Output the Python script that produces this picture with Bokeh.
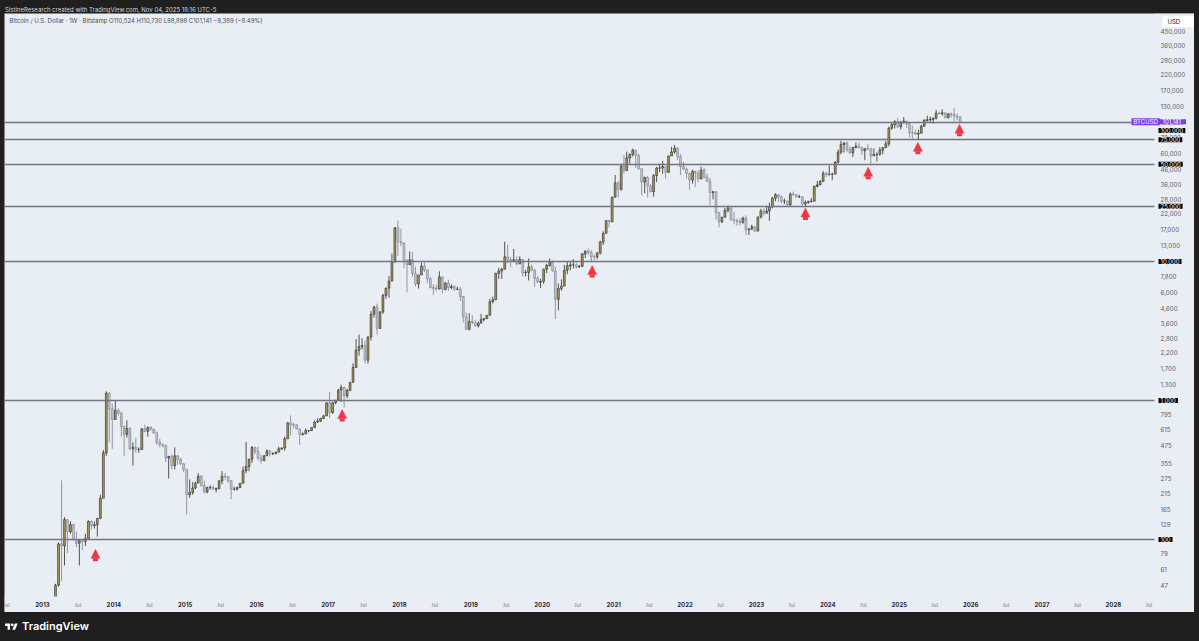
import numpy as np
import pandas as pd
from bokeh.plotting import figure
from bokeh.models import (ColumnDataSource, Range1d, FixedTicker, NumeralTickFormatter,
                          DatetimeTickFormatter, Label, LabelSet, Arrow, NormalHead,
                          Div, GlobalInlineStyleSheet)
from bokeh.layouts import column
from bokeh.embed import file_html
from bokeh.resources import INLINE

# ---------------- data: half-month candles (Bitstamp BTC/USD), open = previous close ----------------
first_open = 20.4
close_2013 = [27, 33, 47, 93, 90, 139, 114, 128, 100, 94, 98, 97, 102, 135, 126, 128, 142, 198, 420, 1130, 870, 730]
high_2013 = [27.5, 34, 48, 95, 266, 145, 140, 135, 130, 114, 100, 100, 110, 137, 137, 135, 143, 210, 440, 1163, 1150, 950]
low_2013 = [19.5, 26, 33, 46, 50, 65, 80, 110, 98, 88, 65, 84, 90, 101, 118, 120, 105, 140, 198, 400, 500, 450]

close_2014 = [850, 810, 650, 570, 630, 450, 460, 445, 445, 625, 600, 640, 620, 585, 500, 480, 475, 385, 395, 340, 400, 378, 350, 320]
high_2014 = [1000, 880, 830, 660, 720, 640, 500, 540, 460, 630, 670, 650, 655, 630, 600, 530, 490, 480, 400, 410, 460, 405, 385, 355]
low_2014 = [730, 780, 550, 400, 540, 440, 340, 420, 420, 440, 590, 550, 610, 575, 480, 460, 460, 360, 275, 320, 320, 345, 345, 305]

close_2015 = [210, 218, 235, 255, 285, 245, 220, 236, 237, 230, 232, 264, 285, 284, 265, 230, 230, 236, 254, 313, 335, 378, 460, 430]
high_2015 = [320, 270, 260, 260, 300, 290, 265, 240, 245, 245, 236, 267, 310, 300, 285, 265, 240, 240, 255, 335, 502, 380, 470, 465]
low_2015 = [152, 200, 210, 230, 255, 240, 215, 215, 228, 228, 218, 230, 250, 270, 255, 195, 225, 225, 235, 254, 300, 310, 355, 410]

close_2016 = [385, 370, 400, 435, 415, 415, 425, 450, 455, 530, 690, 670, 665, 625, 570, 575, 608, 608, 638, 700, 710, 742, 775, 960]
high_2016 = [465, 410, 405, 445, 440, 425, 430, 465, 460, 550, 700, 780, 690, 680, 625, 590, 630, 610, 640, 720, 745, 750, 790, 975]
low_2016 = [370, 350, 365, 400, 395, 405, 410, 425, 440, 435, 530, 560, 630, 620, 480, 560, 575, 590, 605, 635, 690, 700, 740, 775]

close_2017 = [820, 965, 1005, 1190, 1240, 1080, 1180, 1350, 1730, 2300, 2450, 2480, 1950, 2860, 4170, 4700, 3300, 4330, 5700, 6440, 7240, 9950, 17500, 13900]
high_2017 = [1150, 970, 1010, 1210, 1300, 1260, 1215, 1350, 1850, 2760, 2980, 2800, 2700, 2900, 4400, 4800, 4980, 4400, 5850, 6450, 7880, 11400, 17700, 19700]
low_2017 = [750, 800, 940, 1000, 975, 890, 1040, 1180, 1350, 1730, 2100, 2330, 1850, 1840, 2700, 3950, 2980, 3300, 4200, 5400, 5500, 7200, 9800, 11000]

close_2018 = [13600, 10200, 9500, 10300, 8200, 6900, 8000, 9250, 8700, 7500, 6500, 6400, 6350, 7750, 6300, 7000, 6500, 6600, 6300, 6320, 5600, 4000, 3250, 3700]
high_2018 = [17200, 13700, 10300, 11800, 11700, 9200, 8000, 9800, 9900, 8700, 7750, 6850, 6800, 8500, 7750, 7100, 7400, 6850, 6750, 6600, 6550, 5650, 4300, 4250]
low_2018 = [12900, 9000, 6000, 9400, 7800, 6600, 6400, 8000, 8400, 7000, 6400, 5750, 6100, 6300, 5880, 6200, 6150, 6300, 6150, 6250, 5200, 3650, 3200, 3200]

close_2019 = [3630, 3450, 3600, 3820, 3880, 4100, 5150, 5300, 8200, 8550, 8800, 10800, 10300, 10100, 10300, 9600, 10350, 8300, 8350, 9150, 8650, 7550, 7100, 7200]
high_2019 = [4100, 3800, 3700, 4200, 3930, 4120, 5400, 5600, 8300, 9000, 9000, 13880, 13200, 10800, 12300, 10900, 10900, 10400, 8700, 10500, 9500, 8800, 7800, 7500]
low_2019 = [3550, 3400, 3350, 3600, 3700, 3880, 4100, 5000, 5300, 7500, 7500, 8800, 9700, 9100, 9900, 9400, 9600, 7800, 7800, 7300, 8600, 6550, 7000, 6450]

close_2020 = [8800, 9350, 9900, 8550, 5350, 6400, 6650, 8650, 9300, 9450, 9450, 9150, 9250, 11350, 11850, 11650, 10800, 10780, 11500, 13800, 15950, 19700, 19300, 29000]
high_2020 = [8900, 9600, 10500, 10200, 9200, 6950, 7450, 9450, 10000, 9950, 10400, 9800, 9450, 11450, 12100, 12450, 12050, 11200, 11700, 14100, 16500, 19700, 19900, 29300]
low_2020 = [6900, 8250, 9200, 8450, 3850, 4450, 6150, 6650, 8100, 8650, 8900, 8900, 9000, 9100, 10600, 11150, 9900, 10150, 10400, 11250, 13200, 15950, 17600, 19200]

close_2021 = [36800, 33100, 48700, 45200, 55600, 58800, 63300, 57750, 46500, 37300, 40200, 35000, 31800, 41500, 47000, 47100, 48150, 43800, 57400, 61300, 65500, 57000, 48300, 46200]
high_2021 = [41950, 37900, 49700, 58350, 61800, 60000, 64850, 63500, 59600, 46500, 40900, 41300, 36000, 42600, 48000, 50500, 52900, 48500, 58000, 67000, 69000, 66300, 59100, 52000]
low_2021 = [29000, 28800, 32300, 43000, 45000, 50400, 56900, 47050, 46000, 30000, 31000, 28800, 31500, 29300, 37300, 43900, 42800, 39600, 43300, 57400, 59700, 53500, 42000, 45500]

close_2022 = [43100, 38500, 44500, 43200, 39300, 45500, 40500, 37700, 31300, 31800, 22600, 19300, 20800, 23300, 24300, 20050, 19700, 19400, 19100, 20500, 16900, 17150, 17800, 16550]
high_2022 = [47500, 43500, 45800, 44800, 45400, 48200, 47200, 42900, 40000, 32000, 31900, 22600, 21000, 24300, 25200, 24500, 22800, 20400, 20500, 21000, 21500, 17300, 18400, 17900]
low_2022 = [39600, 32900, 36300, 34300, 37200, 39000, 39300, 37600, 25400, 28000, 20100, 17600, 18900, 20800, 22500, 19600, 18500, 18100, 18200, 18700, 15600, 15500, 16800, 16300]

close_2023 = [20900, 23100, 22200, 23100, 24700, 28500, 30300, 29250, 27200, 27200, 25600, 30500, 30300, 29200, 29200, 25950, 26600, 27000, 27150, 34650, 35600, 37700, 43000, 42300]
high_2023 = [21000, 23950, 24250, 25250, 26500, 29200, 31000, 30400, 29800, 28400, 27400, 31400, 31850, 30400, 30200, 29200, 27500, 27400, 28600, 35200, 38000, 38500, 44700, 44400]
low_2023 = [16500, 20400, 21400, 22200, 19600, 24100, 27100, 26900, 26300, 25900, 24800, 25000, 29600, 28900, 28700, 25200, 24900, 26000, 26500, 27100, 34100, 35500, 37600, 40500]

close_2024 = [42500, 42600, 51900, 61200, 69500, 71300, 63900, 60600, 66200, 67500, 66000, 62700, 64800, 64600, 57500, 58900, 59100, 63300, 66000, 70200, 91000, 96400, 101400, 93400]
high_2024 = [49000, 43500, 52800, 64000, 73800, 71800, 72800, 67200, 66400, 71900, 71900, 67000, 65000, 70000, 65600, 65000, 61000, 66500, 66500, 73600, 93500, 99600, 104000, 108300]
low_2024 = [41500, 38500, 42300, 50600, 59000, 60800, 61300, 59600, 56500, 65000, 65100, 58400, 53500, 63400, 49000, 57500, 52600, 57700, 58900, 65500, 67400, 88700, 90500, 91500]

close_2025 = [100500, 102400, 97500, 84400, 84300, 82500, 83600, 94200, 103600, 104600, 105500, 107100, 117000, 115800, 117400, 108200, 115400, 114000, 110800, 109500, 101141]
high_2025 = [102700, 109400, 102500, 99500, 95000, 88800, 88500, 95800, 105800, 112000, 110500, 108800, 123200, 120200, 124500, 117600, 116800, 117900, 126200, 116400, 111200]
low_2025 = [89200, 97800, 91200, 78200, 76600, 81200, 74500, 83600, 93400, 101500, 100400, 98200, 105100, 114700, 112000, 107400, 107300, 108600, 102000, 103500, 98898]

# horizontal levels drawn on the chart
levels = [100, 1000, 10000, 25000, 50000, 75000, 100000]
level_labels = ["100", "1,000", "10,000", "25,000", "50,000", "75,000", "100,000"]
last_price = 101141
last_price_label = "101,141"

# price scale tick values
price_ticks = [47, 61, 79, 100, 129, 165, 215, 275, 355, 475, 615, 795, 1000, 1300, 1700, 2200,
               2800, 3600, 4600, 6000, 7800, 10000, 13000, 17000, 22000, 28000, 36000, 46000,
               60000, 78000, 100000, 130000, 170000, 220000, 280000, 360000, 450000]

# red "up" arrow markers (date, price the arrow tip points at)
arrow_dates = ["2013-09-29", "2017-03-14", "2020-09-13", "2023-09-09", "2024-07-26", "2025-04-06", "2025-11-05"]
arrow_prices = [85, 860, 9350, 24300, 47700, 72000, 97000]

header_text = "SistineResearch created with TradingView.com, Nov 04, 2025 18:16 UTC-5"
legend_text = "Bitcoin / U.S. Dollar · 1W · Bitstamp   O110,524   H110,730   L98,898   C101,141   −9,389 (−8.49%)"

# ---------------- assemble ----------------
closes, highs, lows = [], [], []
for c, h, l in [(close_2013, high_2013, low_2013), (close_2014, high_2014, low_2014),
                (close_2015, high_2015, low_2015), (close_2016, high_2016, low_2016),
                (close_2017, high_2017, low_2017), (close_2018, high_2018, low_2018),
                (close_2019, high_2019, low_2019), (close_2020, high_2020, low_2020),
                (close_2021, high_2021, low_2021), (close_2022, high_2022, low_2022),
                (close_2023, high_2023, low_2023), (close_2024, high_2024, low_2024),
                (close_2025, high_2025, low_2025)]:
    closes += c
    highs += h
    lows += l
n = len(closes)
opens = [first_open] + closes[:-1]

starts_all = []
for yr in range(2013, 2027):
    for mo in range(1, 13):
        for dd in (1, 16):
            ts = pd.Timestamp(year=yr, month=mo, day=dd)
            if ts >= pd.Timestamp("2013-02-01"):
                starts_all.append(ts)
starts = starts_all[:n]
ends = starts_all[1:n + 1]


def ms(ts):
    return pd.Timestamp(ts).value / 1e6


xs = [(ms(s) + ms(e)) / 2 for s, e in zip(starts, ends)]
ws = [(ms(e) - ms(s)) * 0.62 for s, e in zip(starts, ends)]
up = [c >= o for o, c in zip(opens, closes)]
UP_FILL, UP_LINE = "#a99a5c", "#2b2a25"
DN_FILL, DN_LINE = "#c3c7cf", "#7b8089"
src = ColumnDataSource(dict(
    x=xs, w=ws,
    top=[max(o, c) for o, c in zip(opens, closes)],
    bottom=[min(o, c) for o, c in zip(opens, closes)],
    high=[max(h, o, c) for h, o, c in zip(highs, opens, closes)],
    low=[min(l, o, c) for l, o, c in zip(lows, opens, closes)],
    fill=[UP_FILL if u else DN_FILL for u in up],
    line=[UP_LINE if u else DN_LINE for u in up],
))

BG = "#e9edf4"
DARK = "#1f1f1f"

# ---------------- geometry (whole light panel is the frame) ----------------
FIG_W, FIG_H = 1190, 599
PX_PER_DECADE = 139.0
PX_PER_DAY = 71.4 / 365.25
JAN2013_X = 38.0            # px from frame left to 2013-01-01
TEN_K_Y = 248.0             # px from frame top to the 10,000 level
PRICE_SCALE_W = 40          # width of the price scale pane
TIME_SCALE_H = 16           # height of the time scale pane

base = pd.Timestamp("2013-01-01")
x0 = base - pd.Timedelta(days=JAN2013_X / PX_PER_DAY)
x1 = base + pd.Timedelta(days=(FIG_W - JAN2013_X) / PX_PER_DAY)
x_scale_edge = base + pd.Timedelta(days=(FIG_W - PRICE_SCALE_W - JAN2013_X) / PX_PER_DAY)
YMAX = 10 ** (4 + TEN_K_Y / PX_PER_DECADE)
YMIN = 10 ** (4 - (FIG_H - TEN_K_Y) / PX_PER_DECADE)
Y_TIME_EDGE = 10 ** (4 - (FIG_H - TIME_SCALE_H - TEN_K_Y) / PX_PER_DECADE)

p = figure(width=FIG_W, height=FIG_H, x_axis_type="datetime", y_axis_type="log",
           x_range=Range1d(x0, x1), y_range=Range1d(YMIN, YMAX),
           y_axis_location="right", output_backend="svg", toolbar_location=None,
           background_fill_color=BG, border_fill_color=BG, outline_line_color=None,
           min_border_left=0, min_border_right=0, min_border_top=0, min_border_bottom=0,
           margin=(0, 5, 0, 4))
p.grid.visible = False

# axes (drawn inside the panel at the pane edges)
xa = p.xaxis[0]
xa.fixed_location = Y_TIME_EDGE
xa.ticker = FixedTicker(ticks=[ms(f"{y}-01-01") for y in range(2013, 2029)])
xa.formatter = DatetimeTickFormatter(milliseconds="%Y", seconds="%Y", minsec="%Y", minutes="%Y",
                                     hourmin="%Y", hours="%Y", days="%Y", months="%Y", years="%Y")
xa.axis_line_color = None
xa.major_tick_line_color = None
xa.minor_tick_line_color = None
xa.major_tick_out = 0
xa.major_tick_in = 0
xa.minor_tick_out = 0
xa.minor_tick_in = 0
xa.major_label_standoff = 5
xa.major_label_text_font = "Inter"
xa.major_label_text_font_size = "6px"
xa.major_label_text_font_style = "bold"
xa.major_label_text_color = "#2a2e39"

ya = p.yaxis[0]
ya.fixed_location = ms(x_scale_edge)
ya.ticker = FixedTicker(ticks=price_ticks)
ya.formatter = NumeralTickFormatter(format="0,0")
ya.axis_line_color = None
ya.major_tick_line_color = None
ya.minor_tick_line_color = None
ya.major_tick_out = 0
ya.major_tick_in = 0
ya.minor_tick_out = 0
ya.minor_tick_in = 0
ya.major_label_standoff = 6
ya.major_label_text_font = "Inter"
ya.major_label_text_font_size = "6.2px"
ya.major_label_text_color = "#5d606b"

# candles
p.segment(x0="x", y0="low", x1="x", y1="high", source=src, line_color="line", line_width=0.8)
p.vbar(x="x", width="w", top="top", bottom="bottom", source=src,
       fill_color="fill", line_color="line", line_width=0.6)

# horizontal levels
p.hspan(y=levels, line_color="#727681", line_width=1.5)

# time-scale and price-scale panes cover the series
p.quad(left=[ms(x0)], right=[ms(x1)], bottom=[YMIN], top=[Y_TIME_EDGE],
       fill_color=BG, line_color=None)
p.quad(left=[ms(x_scale_edge)], right=[ms(x1)], bottom=[YMIN], top=[YMAX],
       fill_color=BG, line_color=None)

jul_years = list(range(2012, 2029))
jul_src = ColumnDataSource(dict(x=[ms(f"{y}-07-01") for y in jul_years], t=["Jul"] * len(jul_years)))
p.add_layout(LabelSet(x="x", y=8, y_units="screen", text="t", source=jul_src,
                      text_align="center", text_baseline="middle", text_font="Inter",
                      text_font_size="6px", text_color="#80838d"))

# level labels on the price scale
SCALE_X = FIG_W - PRICE_SCALE_W
for lev, lab in zip(levels, level_labels):
    p.add_layout(Label(x=SCALE_X + 4, x_units="screen", y=lev, text=lab,
                       y_offset=-8 if lev == 100000 else 0,
                       text_font="Inter", text_font_size="6px", text_color="#ffffff",
                       text_baseline="middle", text_align="left",
                       background_fill_color="#000000",
                       padding=dict(left=2, right=2, top=0, bottom=0)))

PURPLE = "#7b3ff0"
p.add_layout(Label(x=SCALE_X - 23, x_units="screen", y=last_price, text="BTCUSD",
                   text_font="Inter", text_font_size="6px", text_color="#ffffff",
                   text_baseline="middle", background_fill_color=PURPLE,
                   padding=dict(left=2, right=2, top=0, bottom=0)))
p.add_layout(Label(x=SCALE_X + 4, x_units="screen", y=last_price, text=last_price_label,
                   text_font="Inter", text_font_size="6px", text_color="#ffffff",
                   text_baseline="middle", background_fill_color=PURPLE,
                   padding=dict(left=4, right=5, top=0, bottom=0)))

# arrows
RED = "#f23645"
arr_src = ColumnDataSource(dict(
    x=[ms(d) for d in arrow_dates],
    y1=arrow_prices,
    y0=[v / 10 ** (12 / PX_PER_DECADE) for v in arrow_prices],
))
p.add_layout(Arrow(end=NormalHead(size=9, fill_color=RED, line_color=RED, line_width=0.5),
                   x_start="x", y_start="y0", x_end="x", y_end="y1", source=arr_src,
                   line_color=RED, line_width=5))

# legend line and USD box
p.add_layout(Label(x=5, y=FIG_H - 7, x_units="screen", y_units="screen", text=legend_text,
                   text_font="Inter", text_font_size="6px", text_color="#4a4e59",
                   text_baseline="middle"))
p.add_layout(Label(x=SCALE_X + 8, y=FIG_H - 8, x_units="screen", y_units="screen", text="USD",
                   text_font="Inter", text_font_size="6px", text_color="#131722",
                   text_baseline="middle", background_fill_color="#ffffff",
                   padding=dict(left=5, right=18, top=2, bottom=2)))

header = Div(text=('<div style="padding:3px 0 0 5px;font-family:Inter;font-size:6px;line-height:7px;'
                   'color:#d1d4dc;white-space:nowrap;">' + header_text + '</div>'),
             width=1199, height=13, margin=0)

logo_svg = ('<svg width="13" height="10" viewBox="0 0 36 28" style="display:block">'
            '<path d="M14 22H7V11H0V4h14v18zM28 22h-8l7.5-18h8L28 22z" fill="#ffffff"/>'
            '<circle cx="20" cy="8" r="4" fill="#ffffff"/></svg>')
footer = Div(text=('<div style="display:flex;align-items:center;gap:4px;height:29px;padding-left:5px;'
                   'font-family:Inter;font-weight:600;font-size:11px;color:#ffffff;'
                   'white-space:nowrap;">' + logo_svg + '<span>TradingView</span></div>'),
             width=1199, height=29, margin=0)

layout = column(header, p, footer, spacing=0,
                stylesheets=[GlobalInlineStyleSheet(
                    css="html, body { background-color: %s; overflow: hidden; }" % DARK)])

open("out.html", "w").write(file_html(layout, INLINE))
